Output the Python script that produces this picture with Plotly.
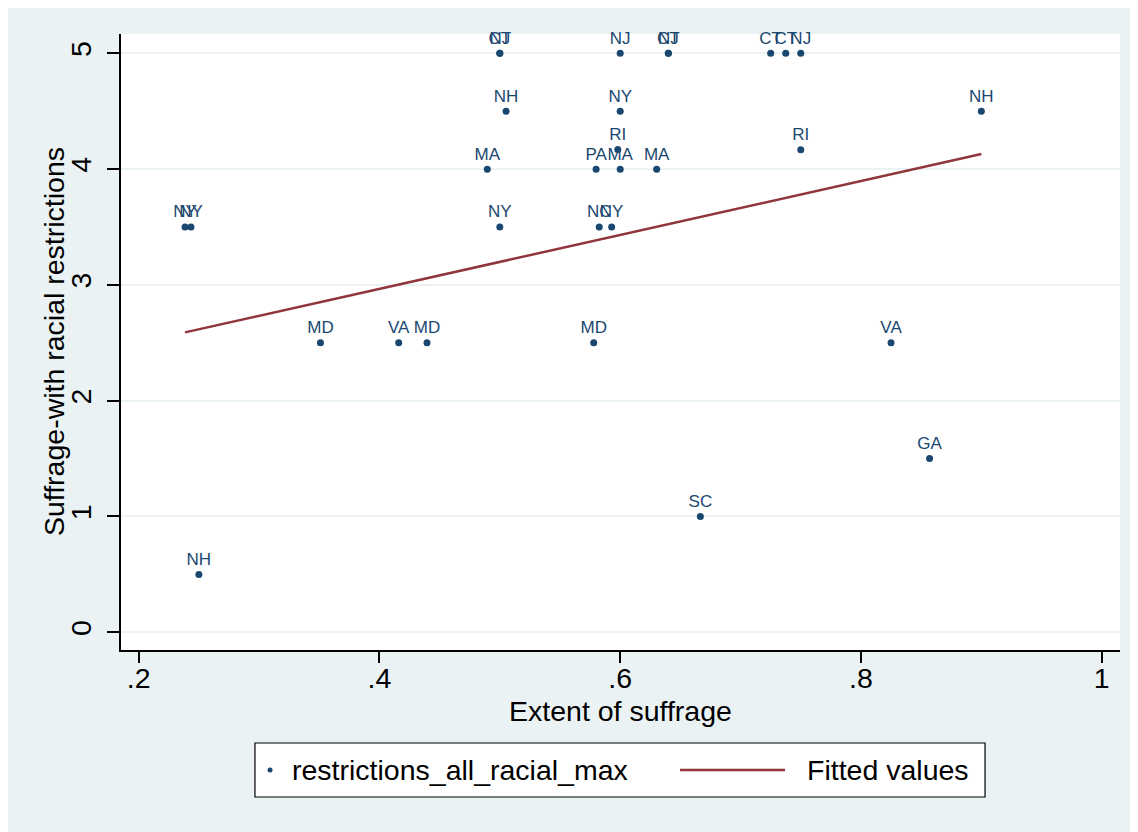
import plotly.graph_objects as go

# Data
states = ["NH", "NY", "NY", "MD", "VA", "MD", "MD", "MA", "CT", "NJ", "NH", "NY",
          "NJ", "CT", "NJ", "NY", "RI", "PA", "MA", "MA", "NC", "NY",
          "CT", "CT", "NJ", "RI", "NH", "VA", "GA", "SC"]
extent = [0.25, 0.2385, 0.2434, 0.351, 0.416, 0.4395, 0.578, 0.4896, 0.5, 0.5, 0.5052, 0.5,
          0.6, 0.64, 0.64, 0.6, 0.598, 0.58, 0.6, 0.6303, 0.5826, 0.5929,
          0.725, 0.7375, 0.75, 0.75, 0.9, 0.825, 0.857, 0.6666]
restrictions = [0.5, 3.5, 3.5, 2.5, 2.5, 2.5, 2.5, 4.0, 5.0, 5.0, 4.5, 3.5,
                5.0, 5.0, 5.0, 4.5, 4.17, 4.0, 4.0, 4.0, 3.5, 3.5,
                5.0, 5.0, 5.0, 4.168, 4.5, 2.5, 1.5, 1.0]

fit_x = [0.2385, 0.9]
fit_y = [2.59, 4.13]

x_ticks = [0.2, 0.4, 0.6, 0.8, 1.0]
x_ticklabels = [".2", ".4", ".6", ".8", "1"]
y_ticks = [0, 1, 2, 3, 4, 5]
y_ticklabels = ["0", "1", "2", "3", "4", "5"]

series_names = ["restrictions_all_racial_max", "Fitted values"]
x_title = "Extent of suffrage"
y_title = "Suffrage-with racial restrictions"

NAVY = "#1a476f"
MAROON = "#90353b"
BG = "#eaf2f3"
FONT = "Liberation Sans, Arial, sans-serif"
FS = 28.5

fig = go.Figure()
fig.add_trace(go.Scatter(
    x=extent, y=restrictions, mode="markers+text", text=states,
    textposition="top center", cliponaxis=False,
    textfont=dict(family=FONT, size=17, color=NAVY),
    marker=dict(color=NAVY, size=7),
    name=series_names[0], showlegend=False,
))
fig.add_trace(go.Scatter(
    x=fit_x, y=fit_y, mode="lines",
    line=dict(color=MAROON, width=2.5),
    name=series_names[1], showlegend=False,
))

# Legend box drawn in paper coordinates (Stata-style legend below the plot)
LEG_Y = -0.1948
shapes = [
    dict(type="rect", xref="paper", yref="paper", x0=0.1341, x1=0.8649, y0=-0.2386, y1=-0.151,
         fillcolor="white", line=dict(color="black", width=1.2)),
    dict(type="circle", xref="paper", yref="paper", x0=0.1467, x1=0.1517, y0=LEG_Y - 0.0041, y1=LEG_Y + 0.0041,
         fillcolor=NAVY, line=dict(color=NAVY, width=0)),
    dict(type="line", xref="paper", yref="paper", x0=0.5596, x1=0.6647, y0=LEG_Y, y1=LEG_Y,
         line=dict(color=MAROON, width=2.5)),
]
annotations = [
    dict(text=series_names[0], xref="paper", yref="paper", x=0.1692, y=LEG_Y,
         xanchor="left", yanchor="middle", showarrow=False,
         font=dict(family=FONT, size=FS, color="black")),
    dict(text=series_names[1], xref="paper", yref="paper", x=0.6847, y=LEG_Y,
         xanchor="left", yanchor="middle", showarrow=False,
         font=dict(family=FONT, size=FS, color="black")),
    # axis titles
    dict(text=x_title, xref="paper", yref="paper", x=0.5, y=-0.099,
         xanchor="center", yanchor="middle", showarrow=False,
         font=dict(family=FONT, size=FS, color="black")),
    dict(text=y_title, xref="paper", yref="paper", x=-0.067, y=0.5, textangle=-90,
         xanchor="center", yanchor="middle", showarrow=False,
         font=dict(family=FONT, size=FS, color="black")),
]

fig.update_layout(
    width=1130, height=824,
    margin=dict(l=113, r=18, t=26, b=182, autoexpand=False),
    paper_bgcolor=BG, plot_bgcolor="white",
    font=dict(family=FONT, size=FS, color="black"),
    showlegend=False,
    shapes=shapes, annotations=annotations,
    xaxis=dict(
        range=[0.1853, 1.0152], tickvals=x_ticks, ticktext=x_ticklabels,
        showgrid=False, zeroline=False, showline=True, linecolor="black", linewidth=1.5,
        ticks="outside", ticklen=11, tickwidth=1.5, tickcolor="black",
        tickfont=dict(size=FS), ticklabelstandoff=-9,
    ),
    yaxis=dict(
        range=[-0.153, 5.167], tickvals=y_ticks, ticktext=y_ticklabels,
        showgrid=True, gridcolor=BG, gridwidth=1.5, zeroline=False,
        showline=True, linecolor="black", linewidth=1.5,
        ticks="outside", ticklen=12, tickwidth=1.5, tickcolor="black",
        tickangle=-90, tickfont=dict(size=FS), ticklabelstandoff=5,
    ),
)

fig.write_html("out.html")
